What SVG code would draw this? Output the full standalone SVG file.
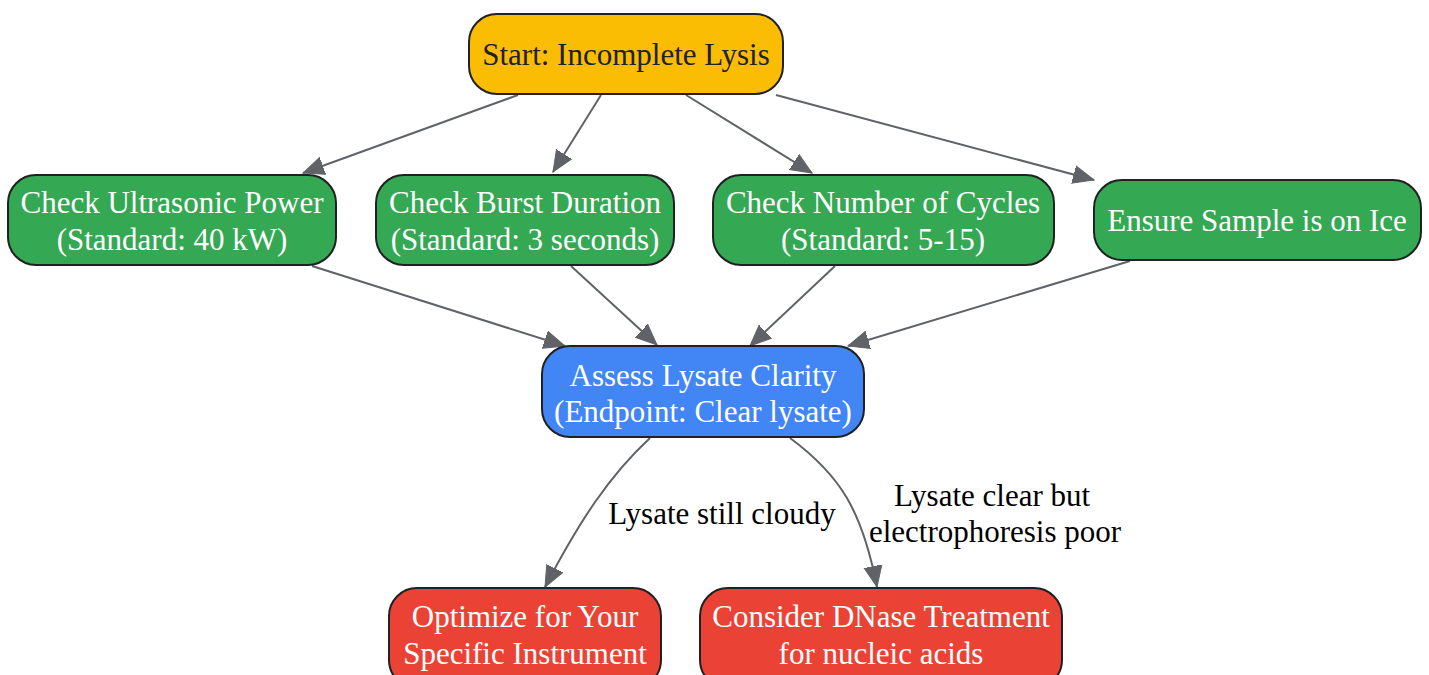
<svg xmlns="http://www.w3.org/2000/svg" width="1429" height="675" viewBox="0 0 1429 675">
<style>
.n{stroke:#202124;stroke-width:2}
.t{font-family:"Liberation Serif","Times New Roman",serif;font-size:31px;text-anchor:middle;fill:#fff}
.d{fill:#202124}
.l{font-family:"Liberation Serif","Times New Roman",serif;font-size:31px;text-anchor:middle;fill:#000}
.e{fill:none;stroke:#5F6368;stroke-width:2;marker-end:url(#a)}
</style>
<defs>
<marker id="a" markerUnits="userSpaceOnUse" markerWidth="24" markerHeight="20" refX="21" refY="9" orient="auto" viewBox="0 0 24 18">
<path d="M0,0 L21,9 L0,18 Z" fill="#5F6368" stroke="#5F6368" stroke-width="1"/>
</marker>
</defs>
<rect width="1429" height="675" fill="#fff"/>
<g id="edges">
<path class="e" d="M518,95 L303,173"/>
<path class="e" d="M601,95 L553,172"/>
<path class="e" d="M686,95 L812,173"/>
<path class="e" d="M776,95 L1094,180"/>
<path class="e" d="M312,266 L565,346"/>
<path class="e" d="M571,266 L657,345"/>
<path class="e" d="M835,266 L750,346"/>
<path class="e" d="M1130,261 L848,346"/>
<path class="e" d="M650,438 C610,475 580,520 545,587"/>
<path class="e" d="M790,438 C840,475 862,510 877,587"/>
<text class="l" x="722" y="524">Lysate still cloudy</text>
<text class="l" x="992" y="506">Lysate clear but</text>
<text class="l" x="995" y="542">electrophoresis poor</text>
</g>
<g id="start">
<rect class="n" x="469" y="14" width="314" height="80" rx="28" fill="#FBBC04"/>
<text class="t d" x="626" y="65">Start: Incomplete Lysis</text>
</g>
<g id="power">
<rect class="n" x="8" y="175" width="328" height="90" rx="28" fill="#34A853"/>
<text class="t" x="172" y="213">Check Ultrasonic Power</text>
<text class="t" x="172" y="250">(Standard: 40 kW)</text>
</g>
<g id="burst">
<rect class="n" x="376" y="175" width="298" height="90" rx="28" fill="#34A853"/>
<text class="t" x="525" y="213">Check Burst Duration</text>
<text class="t" x="525" y="250">(Standard: 3 seconds)</text>
</g>
<g id="cycles">
<rect class="n" x="713" y="175" width="341" height="90" rx="28" fill="#34A853"/>
<text class="t" x="883" y="213">Check Number of Cycles</text>
<text class="t" x="883" y="250">(Standard: 5-15)</text>
</g>
<g id="ice">
<rect class="n" x="1094" y="180" width="327" height="80" rx="28" fill="#34A853"/>
<text class="t" x="1257" y="231">Ensure Sample is on Ice</text>
</g>
<g id="assess">
<rect class="n" x="542" y="346" width="322" height="91" rx="28" fill="#4285F4"/>
<text class="t" x="703" y="386">Assess Lysate Clarity</text>
<text class="t" x="703" y="422">(Endpoint: Clear lysate)</text>
</g>
<g id="optimize">
<rect class="n" x="389" y="588" width="272" height="100" rx="28" fill="#EA4335"/>
<text class="t" x="525" y="627">Optimize for Your</text>
<text class="t" x="525" y="664">Specific Instrument</text>
</g>
<g id="dnase">
<rect class="n" x="700" y="588" width="362" height="100" rx="28" fill="#EA4335"/>
<text class="t" x="881" y="627">Consider DNase Treatment</text>
<text class="t" x="881" y="664">for nucleic acids</text>
</g>
</svg>
